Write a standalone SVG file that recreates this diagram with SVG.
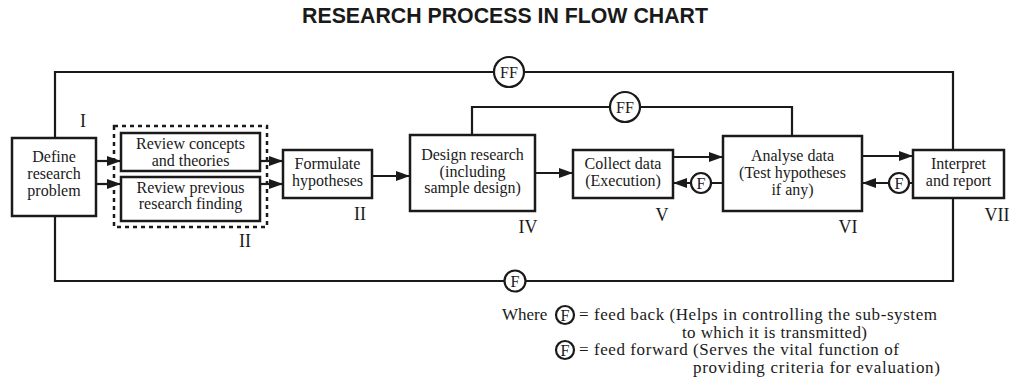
<svg xmlns="http://www.w3.org/2000/svg" width="1016" height="387" viewBox="0 0 1016 387">
  <defs>
    <marker id="arrow" viewBox="0 0 14 10" refX="14" refY="5" markerWidth="14" markerHeight="10" markerUnits="userSpaceOnUse" orient="auto">
      <path d="M0,0 L14,5 L0,10 Z" fill="#1a1a1a"/>
    </marker>
    <style>
      .box { fill: #fff; stroke: #1a1a1a; stroke-width: 2.5; }
      .dash { fill: none; stroke: #1a1a1a; stroke-width: 2.5; stroke-dasharray: 4 4; }
      .line { fill: none; stroke: #1a1a1a; stroke-width: 2.2; }
      .arr { fill: none; stroke: #1a1a1a; stroke-width: 2.2; marker-end: url(#arrow); }
      .ring { fill: #fff; stroke: #1a1a1a; stroke-width: 2.2; }
      .t { font-family: "Liberation Serif", "Times New Roman", serif; font-size: 16px; fill: #1a1a1a; text-anchor: middle; }
      .ct { font-family: "Liberation Serif", "Times New Roman", serif; font-size: 16px; fill: #1a1a1a; text-anchor: middle; }
      .num { font-family: "Liberation Serif", "Times New Roman", serif; font-size: 18px; fill: #1a1a1a; text-anchor: middle; }
      .leg { font-family: "Liberation Serif", "Times New Roman", serif; font-size: 17px; fill: #1a1a1a; }
      .title { font-family: "Liberation Sans", Arial, sans-serif; font-size: 21.3px; font-weight: bold; fill: #1a1a1a; text-anchor: middle; }
    </style>
  </defs>

  <text class="title" x="505" y="23">RESEARCH PROCESS IN FLOW CHART</text>

  <!-- connectors -->
  <g id="connectors">
    <!-- outer feed-forward / feed-back loop -->
    <path class="line" d="M55,138 V72 H953 V150"/>
    <path class="line" d="M55,216 V281 H953 V198"/>
    <!-- inner feed-forward loop -->
    <path class="line" d="M472,135 V107 H792 V136"/>
    <!-- forward flow -->
    <path class="arr" d="M96,161 H121"/>
    <path class="arr" d="M96,184 H121"/>
    <path class="arr" d="M260,161 H283"/>
    <path class="arr" d="M260,184 H283"/>
    <path class="arr" d="M372,176 H410"/>
    <path class="arr" d="M535,173 H573"/>
    <path class="arr" d="M673,157 H723"/>
    <path class="arr" d="M862,156 H913"/>
    <!-- feedback arrows -->
    <path class="arr" d="M723,183 H673"/>
    <path class="arr" d="M913,183 H862"/>
    <!-- loop markers -->
    <circle class="ring" cx="509" cy="72" r="15"/>
    <text class="ct" x="509" y="77.5">FF</text>
    <circle class="ring" cx="625" cy="107" r="15"/>
    <text class="ct" x="625" y="112.5">FF</text>
    <circle class="ring" cx="515" cy="281" r="10.5"/>
    <text class="ct" x="515" y="286.5">F</text>
    <circle class="ring" cx="701" cy="183" r="10"/>
    <text class="ct" x="701" y="188.5">F</text>
    <circle class="ring" cx="899" cy="183" r="10"/>
    <text class="ct" x="899" y="188.5">F</text>
  </g>

  <g id="define">
    <rect class="box" x="12" y="138" width="84" height="78"/>
    <text class="t" x="54" y="162">Define</text>
    <text class="t" x="54" y="179">research</text>
    <text class="t" x="54" y="196">problem</text>
    <text class="num" x="83" y="127">I</text>
  </g>

  <g id="review">
    <rect class="dash" x="114" y="126" width="153" height="101"/>
    <text class="num" x="245" y="247">II</text>
  </g>

  <g id="review-concepts">
    <rect class="box" x="121" y="133" width="139" height="38"/>
    <text class="t" x="190.5" y="149">Review concepts</text>
    <text class="t" x="190.5" y="166">and theories</text>
  </g>

  <g id="review-previous">
    <rect class="box" x="121" y="177" width="139" height="44"/>
    <text class="t" x="190.5" y="193">Review previous</text>
    <text class="t" x="190.5" y="209">research finding</text>
  </g>

  <g id="formulate">
    <rect class="box" x="283" y="150" width="89" height="48"/>
    <text class="t" x="327.5" y="169">Formulate</text>
    <text class="t" x="327.5" y="186">hypotheses</text>
    <text class="num" x="360" y="220">II</text>
  </g>

  <g id="design">
    <rect class="box" x="410" y="135" width="125" height="76"/>
    <text class="t" x="472.5" y="160">Design research</text>
    <text class="t" x="472.5" y="177">(including</text>
    <text class="t" x="472.5" y="193">sample design)</text>
    <text class="num" x="528" y="233">IV</text>
  </g>

  <g id="collect">
    <rect class="box" x="573" y="150" width="100" height="48"/>
    <text class="t" x="623" y="169">Collect data</text>
    <text class="t" x="623" y="186">(Execution)</text>
    <text class="num" x="662" y="221">V</text>
  </g>

  <g id="analyse">
    <rect class="box" x="723" y="136" width="139" height="75"/>
    <text class="t" x="792.5" y="161">Analyse data</text>
    <text class="t" x="792.5" y="178">(Test hypotheses</text>
    <text class="t" x="792.5" y="195">if any)</text>
    <text class="num" x="848" y="233">VI</text>
  </g>

  <g id="interpret">
    <rect class="box" x="913" y="150" width="91" height="48"/>
    <text class="t" x="958.5" y="169">Interpret</text>
    <text class="t" x="958.5" y="186">and report</text>
    <text class="num" x="997" y="221">VII</text>
  </g>

  <!-- legend -->
  <g id="legend">
    <text class="leg" x="502" y="320">Where</text>
    <circle class="ring" cx="565" cy="315" r="9"/>
    <text class="ct" x="565" y="320.5">F</text>
    <text class="leg" x="579" y="320" textLength="358" lengthAdjust="spacing">= feed back (Helps in controlling the sub-system</text>
    <text class="leg" x="682" y="337.5" textLength="185" lengthAdjust="spacing">to which it is transmitted)</text>
    <circle class="ring" cx="565" cy="350" r="9"/>
    <text class="ct" x="565" y="355.5">F</text>
    <text class="leg" x="579" y="355" textLength="320" lengthAdjust="spacing">= feed forward (Serves the vital function of</text>
    <text class="leg" x="693" y="372.5" textLength="247" lengthAdjust="spacing">providing criteria for evaluation)</text>
  </g>
</svg>
